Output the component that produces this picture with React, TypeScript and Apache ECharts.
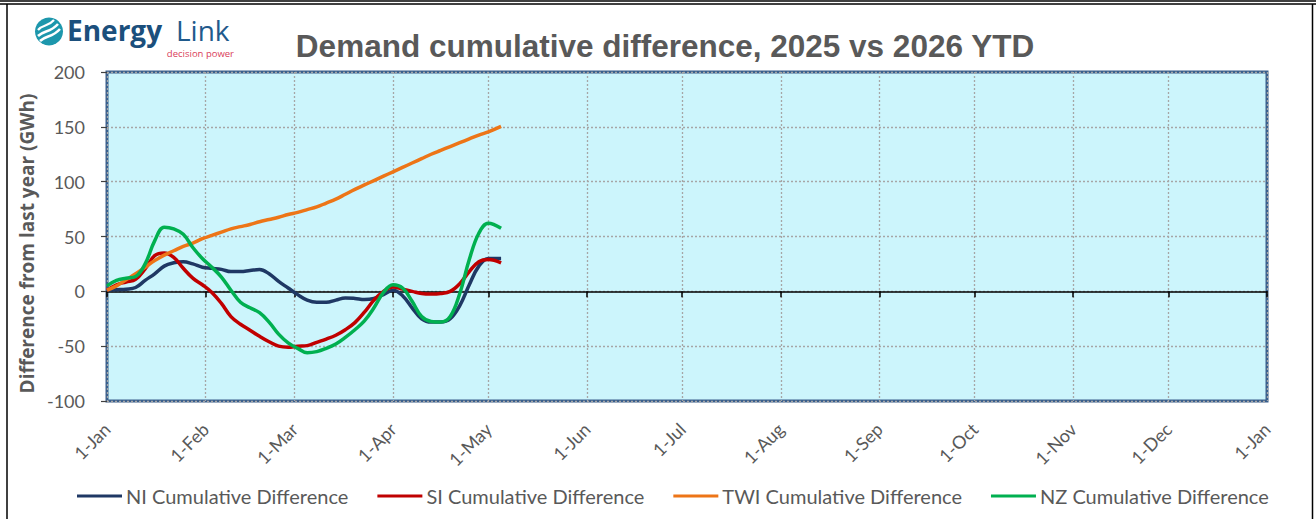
import React, { useEffect, useRef } from "react";
import * as echarts from "echarts";

const monthLabels = ["1-Jan", "1-Feb", "1-Mar", "1-Apr", "1-May", "1-Jun", "1-Jul", "1-Aug", "1-Sep", "1-Oct", "1-Nov", "1-Dec", "1-Jan"];
const monthStartDays = [0, 31, 59, 90, 120, 151, 181, 212, 243, 273, 304, 334, 365];
const yearDays = 366;

const days = [0, 3, 6, 9, 12, 15, 18, 21, 24, 27, 30, 33, 36, 39, 42, 45, 48, 51, 54, 57, 60, 63, 66, 69, 72, 75, 78, 81, 84, 87, 90, 93, 96, 99, 102, 105, 108, 111, 114, 117, 120, 124];

const niValues = [1, 1.5, 2, 3.5, 10, 16, 23, 26, 27, 25, 22, 21, 20, 18, 18, 19, 20, 16, 9, 3, -3, -8, -10, -10, -8, -6, -6.5, -7.5, -6.5, -3, 1, -4, -15, -25, -28, -28, -25, -13, 6, 23, 30, 30];
const siValues = [1, 6, 8.5, 11, 20.5, 32.5, 35, 31, 21, 12, 6, -1, -11, -23, -30, -35.5, -41, -46, -50, -51, -50, -49.5, -46.5, -43.5, -40, -35, -28.5, -19, -8, 0, 4, 2, 0, -2, -2.5, -2, 0, 7, 18, 27, 29, 26];
const twiValues = [1, 5, 10.5, 16, 22, 28, 33, 37, 41, 44, 48, 51, 54, 57, 59, 61, 63.5, 65.5, 67.5, 70, 72, 74.5, 77, 80.5, 84, 88.5, 93, 97, 101, 105, 109, 113, 117, 121, 125, 128.5, 132, 135.5, 139, 142.5, 145.5, 150.5];
const nzValues = [5, 10, 12, 13.5, 25, 46, 58.5, 57, 52, 40, 30, 22, 13, 1, -10, -15, -19.5, -28, -39, -47, -52, -56, -55, -52, -48, -42, -35, -27, -15, -1, 6, 3, -9, -23, -27.5, -28, -23, -2, 29, 53, 62, 57.5];

const seriesNames = ["NI Cumulative Difference", "SI Cumulative Difference", "TWI Cumulative Difference", "NZ Cumulative Difference"];
const seriesColors = ["#1F3864", "#C00000", "#ED7517", "#00B050"];

const yTicks = { min: -100, max: 200, interval: 50 };

export default function App() {
  const ref = useRef<HTMLDivElement>(null);

  useEffect(() => {
    if (!ref.current) return;
    const chart = echarts.init(ref.current, undefined, { renderer: "svg" });
    const categories = Array.from({ length: yearDays }, (_, i) => String(i));
    const isMonth = (i: number) => monthStartDays.includes(i);
    const allValues = [niValues, siValues, twiValues, nzValues];
    const grey = "#595959";
    const font = "Lato, 'Open Sans', sans-serif";

    const option: any = {
      animation: false,
      backgroundColor: "#ffffff",
      grid: {
        left: 107,
        right: 49,
        top: 72,
        bottom: 118,
        show: true,
        backgroundColor: "#CCF5FC",
        borderColor: "#3A5F8C",
        borderWidth: 3,
        z: 0,
      },
      title: {
        text: "Demand cumulative difference, 2025 vs 2026 YTD",
        left: 660,
        top: 25,
        textAlign: "center",
        textStyle: {
          fontFamily: "'Liberation Sans', sans-serif",
          fontWeight: "bold",
          fontSize: 31.5,
          color: grey,
        },
      },
      legend: {
        data: seriesNames,
        left: 72,
        top: 479,
        icon: "rect",
        itemWidth: 45,
        itemHeight: 3,
        itemGap: 29,
        textStyle: { fontFamily: font, fontSize: 20, lineHeight: 24, color: grey, padding: [0, 0, 0, -1] },
      },
      xAxis: [
        {
          type: "category",
          data: categories,
          boundaryGap: false,
          position: "bottom",
          axisLine: { show: true, onZero: true, lineStyle: { color: "#000000", width: 1.5 } },
          axisTick: { show: true, length: 6, interval: (i: number) => isMonth(i), lineStyle: { color: "#000000", width: 1.5 } },
          axisLabel: { show: false },
          splitLine: { show: true, interval: (i: number) => isMonth(i), lineStyle: { color: "#A6A6A6", type: [2, 2], width: 1.3 } },
        },
        {
          type: "category",
          data: categories,
          boundaryGap: false,
          position: "bottom",
          axisLine: { show: false, onZero: false },
          axisTick: { show: false },
          splitLine: { show: false },
          axisLabel: {
            show: true,
            interval: (i: number) => isMonth(i),
            formatter: (v: string) => {
              const k = monthStartDays.indexOf(Number(v));
              return k >= 0 ? monthLabels[k] : "";
            },
            rotate: 45,
            margin: 25,
            fontFamily: font,
            fontSize: 18,
            color: grey,
          },
        },
      ],
      yAxis: {
        type: "value",
        min: yTicks.min,
        max: yTicks.max,
        interval: yTicks.interval,
        name: "Difference from last year (GWh)",
        nameLocation: "middle",
        nameRotate: 90,
        nameGap: 66,
        nameTextStyle: { fontFamily: "'Open Sans', sans-serif", fontWeight: "bold", fontSize: 19, color: grey, padding: [0, 14, 0, 0] },
        axisLine: { show: false },
        axisTick: { show: true, length: 6, lineStyle: { color: "#404040", width: 1.2 } },
        axisLabel: { margin: 22, fontFamily: font, fontSize: 18, color: grey },
        splitLine: { show: true, lineStyle: { color: "#A6A6A6", type: [2, 2], width: 1.3 } },
      },
      series: seriesNames.map((name, si) => ({
        name,
        type: "line",
        xAxisIndex: 0,
        data: days.map((d, k) => [d, allValues[si][k]]),
        smooth: 0.4,
        showSymbol: false,
        symbol: "none",
        lineStyle: { color: seriesColors[si], width: 3.5 },
        itemStyle: { color: seriesColors[si] },
        z: 3 + si,
      })),
      graphic: [
        { type: "line", shape: { x1: 0, y1: 1, x2: 1316, y2: 1 }, style: { stroke: "#000", lineWidth: 1.5 } },
        { type: "line", shape: { x1: 0, y1: 4, x2: 1316, y2: 4 }, style: { stroke: "#000", lineWidth: 1.5 } },
        { type: "line", shape: { x1: 7, y1: 4, x2: 7, y2: 519 }, style: { stroke: "#000", lineWidth: 1.5 } },
        { type: "line", shape: { x1: 1312.5, y1: 4, x2: 1312.5, y2: 519 }, style: { stroke: "#000", lineWidth: 1.5 } },
        { type: "circle", shape: { cx: 49, cy: 31.5, r: 14 }, style: { fill: "#1D97AC" } },
        { type: "bezierCurve", shape: { x1: 38, y1: 36, cpx1: 44, cpy1: 30, cpx2: 50, cpy2: 33, x2: 58, y2: 24 }, style: { stroke: "#fff", lineWidth: 2.6, fill: null } },
        { type: "bezierCurve", shape: { x1: 40, y1: 41, cpx1: 46, cpy1: 35, cpx2: 52, cpy2: 38, x2: 60, y2: 29 }, style: { stroke: "#fff", lineWidth: 2.6, fill: null } },
        { type: "bezierCurve", shape: { x1: 38, y1: 30, cpx1: 43, cpy1: 24, cpx2: 48, cpy2: 27, x2: 54, y2: 20 }, style: { stroke: "#fff", lineWidth: 2.2, fill: null } },
        {
          type: "text",
          x: 67,
          y: 30,
          style: { text: "Energy", fontFamily: "'Open Sans', sans-serif", fontWeight: 700, fontSize: 28, fill: "#1B4F7C", verticalAlign: "middle", textAlign: "left" },
        },
        {
          type: "text",
          x: 176,
          y: 30,
          style: { text: "Link", fontFamily: "'Open Sans', sans-serif", fontWeight: 400, fontSize: 28, fill: "#1F5A8C", verticalAlign: "middle", textAlign: "left" },
        },
        {
          type: "text",
          x: 234,
          y: 53,
          style: { text: "decision power", fontFamily: "'Open Sans', sans-serif", fontSize: 9.5, fill: "#D9405A", verticalAlign: "middle", textAlign: "right" },
        },
      ],
    };

    chart.setOption(option);
    return () => chart.dispose();
  }, []);

  return <div ref={ref} style={{ position: "absolute", left: 0, top: 0, width: 1316, height: 519, background: "#fff" }} />;
}
